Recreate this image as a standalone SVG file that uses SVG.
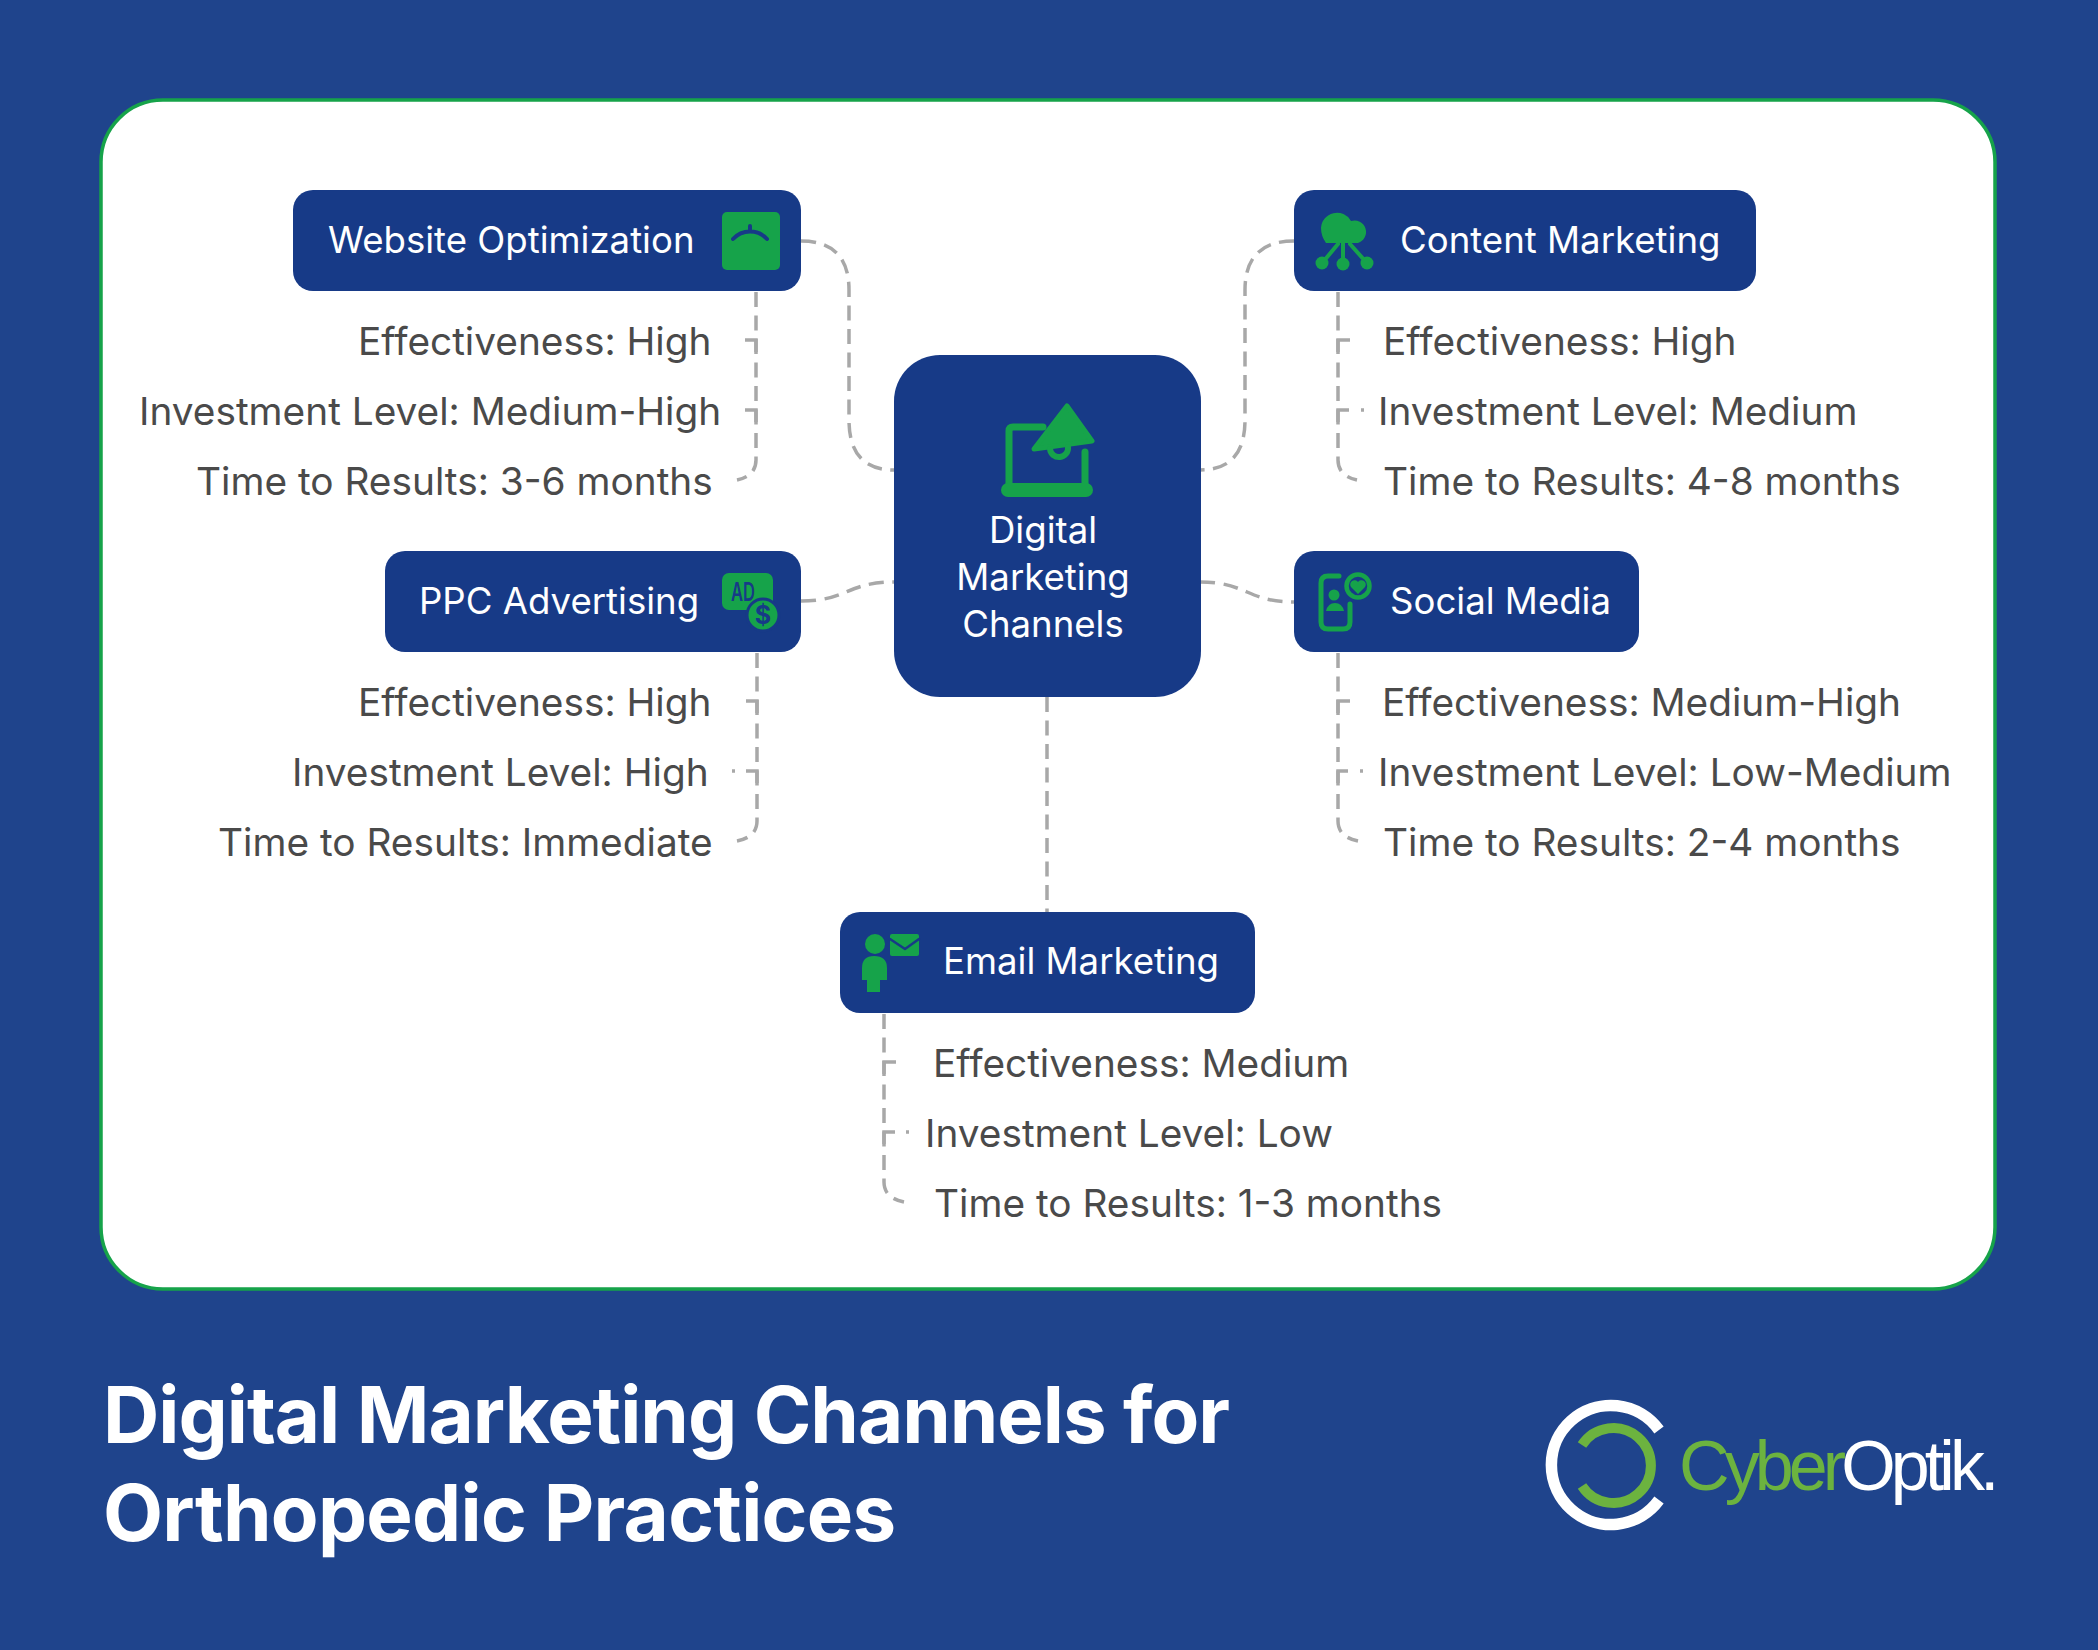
<svg xmlns="http://www.w3.org/2000/svg" width="2098" height="1650" viewBox="0 0 2098 1650">
<style>
.node{fill:#173a87}
.lab{font-family:Inter,"Liberation Sans",sans-serif;font-size:36.6px;fill:#fff}
.det{font-family:Inter,"Liberation Sans",sans-serif;font-size:38.8px;fill:#4a4a4a}
.title{font-family:Inter,"Liberation Sans",sans-serif;font-size:78px;font-weight:700;letter-spacing:-1px;fill:#fff}
.con{fill:none;stroke:#a8a8a8;stroke-width:3.5;stroke-dasharray:15 8.5}
.hook{fill:none;stroke:#a8a8a8;stroke-width:3.5}
.g{fill:#16a34a}
.gs{fill:none;stroke:#16a34a;stroke-linecap:round;stroke-linejoin:round}
.ds{fill:none;stroke:#173a87;stroke-linecap:round;stroke-linejoin:round}
</style>
<rect width="2098" height="1650" fill="#1f448c"/>
<rect id="card" x="101" y="100" width="1894" height="1189" rx="62" fill="#fff" stroke="#16a34a" stroke-width="3.5"/>
<g id="connectors">
<path class="con" d="M801 241Q849 241 849 290V420Q849 470 894 470"/>
<path class="con" d="M1294 241Q1245 241 1245 290V420Q1245 470 1200 470"/>
<path class="con" d="M801 601C847 601 847 582 894 582"/>
<path class="con" d="M1200 582C1247 582 1247 602 1294 602"/>
<path class="con" d="M1047 697V912"/>
<path class="con" d="M756 292V460Q756 476 737 480"/>
<path class="hook" d="M756 352V340H745M756 422V410H745"/>
<path class="con" d="M757 653V821Q757 837 737 841"/>
<path class="hook" d="M757 713V701H746M757 783V771H746M735 771H732"/>
<path class="con" d="M1338 292V460Q1338 476 1357 480"/>
<path class="hook" d="M1338 352V340H1350M1338 422V410H1349M1361 410H1364"/>
<path class="con" d="M1338 653V821Q1338 837 1358 841"/>
<path class="hook" d="M1338 713V701H1350M1338 783V771H1348M1360 771H1363"/>
<path class="con" d="M884 1014V1182Q884 1198 904 1202"/>
<path class="hook" d="M884 1074V1062H896M884 1144V1132H895M906 1132H909"/>
</g>
<g id="center">
<rect class="node" x="894" y="355" width="307" height="342" rx="46"/>
<path class="gs" stroke-width="7" d="M1043 427H1013Q1009 427 1009 431V486M1085 452V486"/>
<rect class="g" x="1001" y="483" width="92" height="14" rx="7"/>
<path class="g" stroke="#16a34a" stroke-width="5" stroke-linejoin="round" d="M1067 406L1092 441L1034 449Z"/>
<path class="gs" stroke-width="6" d="M1050 449A9 9 0 0 0 1068 447"/>
<text class="lab" x="1043" y="543" text-anchor="middle">Digital</text>
<text class="lab" x="1043" y="590" text-anchor="middle">Marketing</text>
<text class="lab" x="1043" y="637" text-anchor="middle">Channels</text>
</g>
<g id="website">
<rect class="node" x="293" y="190" width="508" height="101" rx="20"/>
<text class="lab" x="328" y="253">Website Optimization</text>
<rect class="g" x="722" y="212" width="58" height="58" rx="5"/>
<path class="ds" stroke-width="4" d="M733 239A23 23 0 0 1 767 239M750 226V230"/>
<text class="det" x="358" y="355">Effectiveness: High</text>
<text class="det" x="139" y="425">Investment Level: Medium-High</text>
<text class="det" x="196" y="495">Time to Results: 3-6 months</text>
</g>
<g id="content">
<rect class="node" x="1294" y="190" width="462" height="101" rx="20"/>
<path class="g" d="M1326 243Q1321 236 1321 228A16 16 0 0 1 1351 221A11 11 0 0 1 1358 243Z"/>
<path class="gs" stroke-width="4" d="M1343 243V262M1338 244L1323 262M1350 244L1366 262"/>
<circle class="g" cx="1322" cy="263" r="6.5"/><circle class="g" cx="1343" cy="264" r="6.5"/><circle class="g" cx="1367" cy="263" r="6.5"/>
<text class="lab" x="1400" y="253">Content Marketing</text>
<text class="det" x="1383" y="355">Effectiveness: High</text>
<text class="det" x="1378" y="425">Investment Level: Medium</text>
<text class="det" x="1383" y="495">Time to Results: 4-8 months</text>
</g>
<g id="ppc">
<rect class="node" x="385" y="551" width="416" height="101" rx="20"/>
<text class="lab" x="419" y="614">PPC Advertising</text>
<rect class="g" x="722" y="573" width="51" height="37" rx="7"/>
<text transform="translate(731 601) scale(.66 1)" font-family="Inter,sans-serif" font-size="25" font-weight="600" fill="#173a87">AD</text>
<circle class="g" cx="763" cy="615" r="16" stroke="#173a87" stroke-width="3"/>
<text x="763" y="624" text-anchor="middle" font-family="Inter,sans-serif" font-size="25" font-weight="700" fill="#173a87">$</text>
<text class="det" x="358" y="716">Effectiveness: High</text>
<text class="det" x="292" y="786">Investment Level: High</text>
<text class="det" x="218" y="856">Time to Results: Immediate</text>
</g>
<g id="social">
<rect class="node" x="1294" y="551" width="345" height="101" rx="20"/>
<path class="gs" stroke-width="5" d="M1339 576H1328Q1321 576 1321 583V622Q1321 629 1328 629H1343Q1350 629 1350 622V604"/>
<circle class="g" cx="1334" cy="595" r="5.5"/>
<path class="g" d="M1326 611Q1328 603 1335 603Q1342 603 1344 611Z"/>
<circle class="gs" cx="1358" cy="586" r="11.5" stroke-width="4.5"/>
<path class="g" d="M1358 594L1351 587A4 4 0 0 1 1358 582A4 4 0 0 1 1365 587Z"/>
<text class="lab" x="1390" y="614">Social Media</text>
<text class="det" x="1382" y="716">Effectiveness: Medium-High</text>
<text class="det" x="1378" y="786">Investment Level: Low-Medium</text>
<text class="det" x="1383" y="856">Time to Results: 2-4 months</text>
</g>
<g id="email">
<rect class="node" x="840" y="912" width="415" height="101" rx="20"/>
<circle class="g" cx="875" cy="944" r="10"/>
<path class="g" d="M862 980V968Q862 956 874 956Q887 956 887 968V980H880V992H867V980Z"/>
<rect class="g" x="890" y="934" width="29" height="22" rx="2"/>
<path class="ds" stroke-width="2.5" d="M890 939L905 949L919 939"/>
<text class="lab" x="943" y="974">Email Marketing</text>
<text class="det" x="933" y="1077">Effectiveness: Medium</text>
<text class="det" x="925" y="1147">Investment Level: Low</text>
<text class="det" x="934" y="1217">Time to Results: 1-3 months</text>
</g>
<g id="heading">
<text class="title" x="103" y="1443">Digital Marketing Channels for</text>
<text class="title" x="103" y="1541" style="letter-spacing:-.73px">Orthopedic Practices</text>
</g>
<g id="logo">
<path fill="none" stroke="#fff" stroke-width="11.5" d="M1659 1430A59.5 59.5 0 1 0 1659 1500"/>
<path fill="none" stroke="#6cb33f" stroke-width="10" d="M1582 1445A37.5 37.5 0 1 1 1582 1486"/>
<text x="1679" y="1490" font-family="Liberation Sans,sans-serif" font-size="70" letter-spacing="-4.9"><tspan fill="#6cb33f">Cyber</tspan><tspan fill="#fff">Optik.</tspan></text>
</g>
</svg>
